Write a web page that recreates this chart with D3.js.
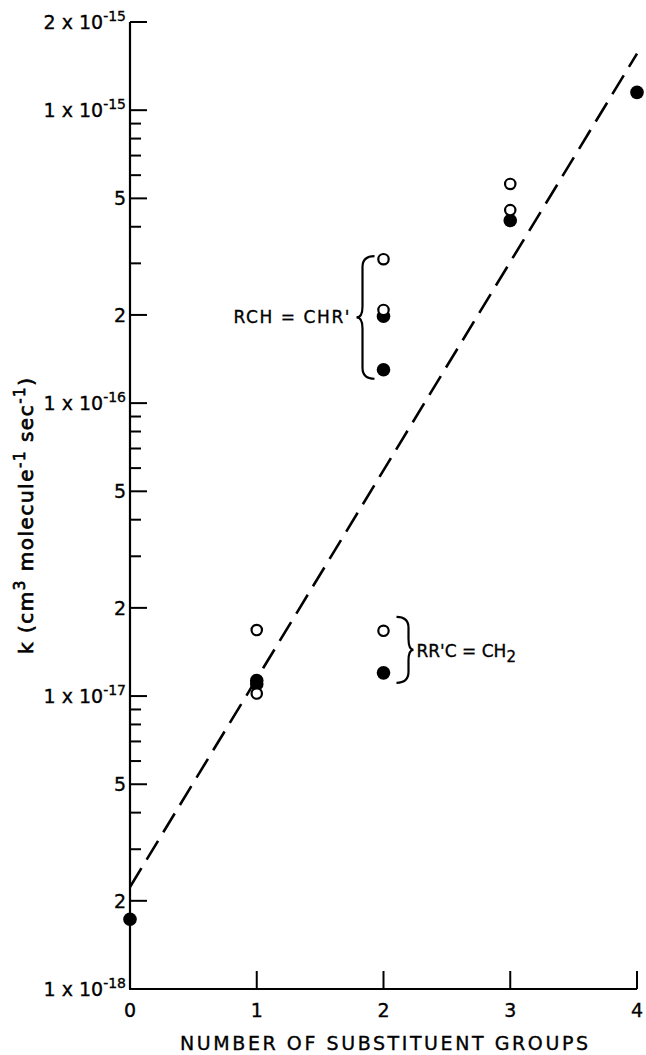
<!DOCTYPE html>
<html>
<head>
<meta charset="utf-8">
<script src="https://cdn.jsdelivr.net/npm/d3@7"></script>
<style>
  html, body { margin: 0; padding: 0; background: #fff; }
  svg { display: block; }
  text { font-family: "DejaVu Sans", "Liberation Sans", sans-serif; fill: #000; stroke: #000; stroke-width: 0.35; }
</style>
</head>
<body>
<svg id="chart" width="646" height="1055"></svg>
<script>
// Rate constants k (cm3 molecule-1 sec-1) versus number of substituent groups
const openX = [1, 1, 2, 2, 2, 3, 3];
const openK = [1.68e-17, 1.02e-17, 3.1e-16, 2.08e-16, 1.67e-17, 5.6e-16, 4.56e-16];

const filledX = [0, 1, 1, 2, 2, 2, 3, 4];
const filledK = [1.73e-18, 1.13e-17, 1.1e-17, 1.98e-16, 1.3e-16, 1.2e-17, 4.2e-16, 1.15e-15];

// Trend line end points
const fitX = [0, 4];
const fitK = [2.23e-18, 1.56e-15];

// Axis ticks
const xTicks = [0, 1, 2, 3, 4];
const yMajor = [1e-18, 2e-18, 5e-18, 1e-17, 2e-17, 5e-17, 1e-16, 2e-16, 5e-16, 1e-15, 2e-15];
const yMajorLabels = [
  ["1 x 10", "-18"], ["2", ""], ["5", ""],
  ["1 x 10", "-17"], ["2", ""], ["5", ""],
  ["1 x 10", "-16"], ["2", ""], ["5", ""],
  ["1 x 10", "-15"], ["2 x 10", "-15"]
];
const yMinor = [3e-18, 4e-18, 6e-18, 7e-18, 8e-18, 9e-18,
                3e-17, 4e-17, 6e-17, 7e-17, 8e-17, 9e-17,
                3e-16, 4e-16, 6e-16, 7e-16, 8e-16, 9e-16];

// Bracketed groups
const groupRCH = [3.1e-16, 1.3e-16];   // top, bottom of RCH=CHR' group
const groupRRC = [1.67e-17, 1.2e-17];  // top, bottom of RR'C=CH2 group

const svg = d3.select("#chart");

const x = d3.scaleLinear().domain([0, 4]).range([130, 637]);
const y = d3.scaleLog().domain([1e-18, 2e-15]).range([989, 22]);

// Axes lines
const axisG = svg.append("g");
axisG.append("line")
  .attr("x1", x(0)).attr("x2", x(0))
  .attr("y1", y(1e-18)).attr("y2", y(2e-15))
  .attr("stroke", "#000").attr("stroke-width", 2.2);
axisG.append("line")
  .attr("x1", x(0) - 1).attr("x2", x(4))
  .attr("y1", y(1e-18)).attr("y2", y(1e-18))
  .attr("stroke", "#000").attr("stroke-width", 2.2);

// Y ticks (inward)
axisG.selectAll("line.ymaj").data(yMajor).join("line")
  .attr("class", "ymaj")
  .attr("x1", x(0)).attr("x2", x(0) + 17)
  .attr("y1", d => y(d)).attr("y2", d => y(d))
  .attr("stroke", "#000").attr("stroke-width", 2);
axisG.selectAll("line.ymin").data(yMinor).join("line")
  .attr("class", "ymin")
  .attr("x1", x(0)).attr("x2", x(0) + 11)
  .attr("y1", d => y(d)).attr("y2", d => y(d))
  .attr("stroke", "#000").attr("stroke-width", 2);

// X ticks (inward)
axisG.selectAll("line.xt").data(xTicks.slice(1)).join("line")
  .attr("class", "xt")
  .attr("x1", d => x(d)).attr("x2", d => x(d))
  .attr("y1", y(1e-18)).attr("y2", y(1e-18) - 18)
  .attr("stroke", "#000").attr("stroke-width", 2);

// Y tick labels
const yl = svg.append("g").selectAll("text").data(yMajor).join("text")
  .attr("x", 126)
  .attr("y", d => y(d) + 7)
  .attr("text-anchor", "end")
  .attr("font-size", 19);
yl.each(function(d, i) {
  const t = d3.select(this);
  const [base, sup] = yMajorLabels[i];
  t.append("tspan").text(base);
  if (sup) {
    t.append("tspan").attr("dy", -8).attr("font-size", 14).text(sup);
  }
});

// X tick labels
svg.append("g").selectAll("text").data(xTicks).join("text")
  .attr("x", d => x(d))
  .attr("y", y(1e-18) + 28)
  .attr("text-anchor", "middle")
  .attr("font-size", 19)
  .text(d => d);

// X axis title
svg.append("text")
  .attr("x", 180).attr("y", 1050)
  .attr("font-size", 19)
  .attr("textLength", 408)
  .attr("lengthAdjust", "spacing")
  .text("NUMBER OF SUBSTITUENT GROUPS");

// Y axis title
const yt = svg.append("text")
  .attr("transform", "translate(33,516) rotate(-90)")
  .attr("text-anchor", "middle")
  .attr("font-size", 20)
  .attr("textLength", 276)
  .attr("lengthAdjust", "spacing")
  .style("stroke-width", 0.7);
yt.append("tspan").text("k (cm");
yt.append("tspan").attr("dy", -8).attr("font-size", 15).text("3");
yt.append("tspan").attr("dy", 8).text(" molecule");
yt.append("tspan").attr("dy", -8).attr("font-size", 15).text("-1");
yt.append("tspan").attr("dy", 8).text(" sec");
yt.append("tspan").attr("dy", -8).attr("font-size", 15).text("-1");
yt.append("tspan").attr("dy", 8).text(")");

// Dashed trend line
svg.append("line")
  .attr("x1", x(fitX[0])).attr("y1", y(fitK[0]))
  .attr("x2", x(fitX[1])).attr("y2", y(fitK[1]))
  .attr("stroke", "#000").attr("stroke-width", 2.6)
  .attr("stroke-dasharray", "22,10");

// Filled points
svg.append("g").selectAll("circle").data(filledK).join("circle")
  .attr("cx", (d, i) => x(filledX[i]))
  .attr("cy", d => y(d))
  .attr("r", 6.8)
  .attr("fill", "#000");

// Open points
svg.append("g").selectAll("circle").data(openK).join("circle")
  .attr("cx", (d, i) => x(openX[i]))
  .attr("cy", d => y(d))
  .attr("r", 5.2)
  .attr("fill", "#fff")
  .attr("stroke", "#000")
  .attr("stroke-width", 2.2);

// Curly brace: flat ends at xa, spine at xb, tip at xt, from y0 to y1
function bracePath(xa, xb, xt, y0, y1) {
  const ym = (y0 + y1) / 2;
  const r = 11;
  return `M${xa},${y0} Q${xb},${y0} ${xb},${y0 + r}` +
         ` L${xb},${ym - r} Q${xb},${ym} ${xt},${ym}` +
         ` Q${xb},${ym} ${xb},${ym + r}` +
         ` L${xb},${y1 - r} Q${xb},${y1} ${xa},${y1}`;
}

// Left brace for RCH=CHR'
const b1x = x(2);
svg.append("path")
  .attr("d", bracePath(b1x - 9, b1x - 21, b1x - 27, y(groupRCH[0]) - 3, y(groupRCH[1]) + 9))
  .attr("fill", "none").attr("stroke", "#000").attr("stroke-width", 2.2);
svg.append("text")
  .attr("x", b1x - 34).attr("y", (y(groupRCH[0]) + y(groupRCH[1])) / 2 + 9)
  .attr("text-anchor", "end")
  .attr("font-size", 17)
  .attr("textLength", 116)
  .attr("lengthAdjust", "spacing")
  .text("RCH = CHR'");

// Right brace for RR'C=CH2
const b2x = x(2);
svg.append("path")
  .attr("d", bracePath(b2x + 13, b2x + 25, b2x + 30, y(groupRRC[0]) - 14, y(groupRRC[1]) + 10))
  .attr("fill", "none").attr("stroke", "#000").attr("stroke-width", 2.2);
const t2 = svg.append("text")
  .attr("x", b2x + 33).attr("y", (y(groupRRC[0]) + y(groupRRC[1])) / 2 + 5)
  .attr("font-size", 17);
t2.append("tspan").text("RR'C = CH");
t2.append("tspan").attr("dy", 5).attr("font-size", 15).text("2");
</script>
</body>
</html>
